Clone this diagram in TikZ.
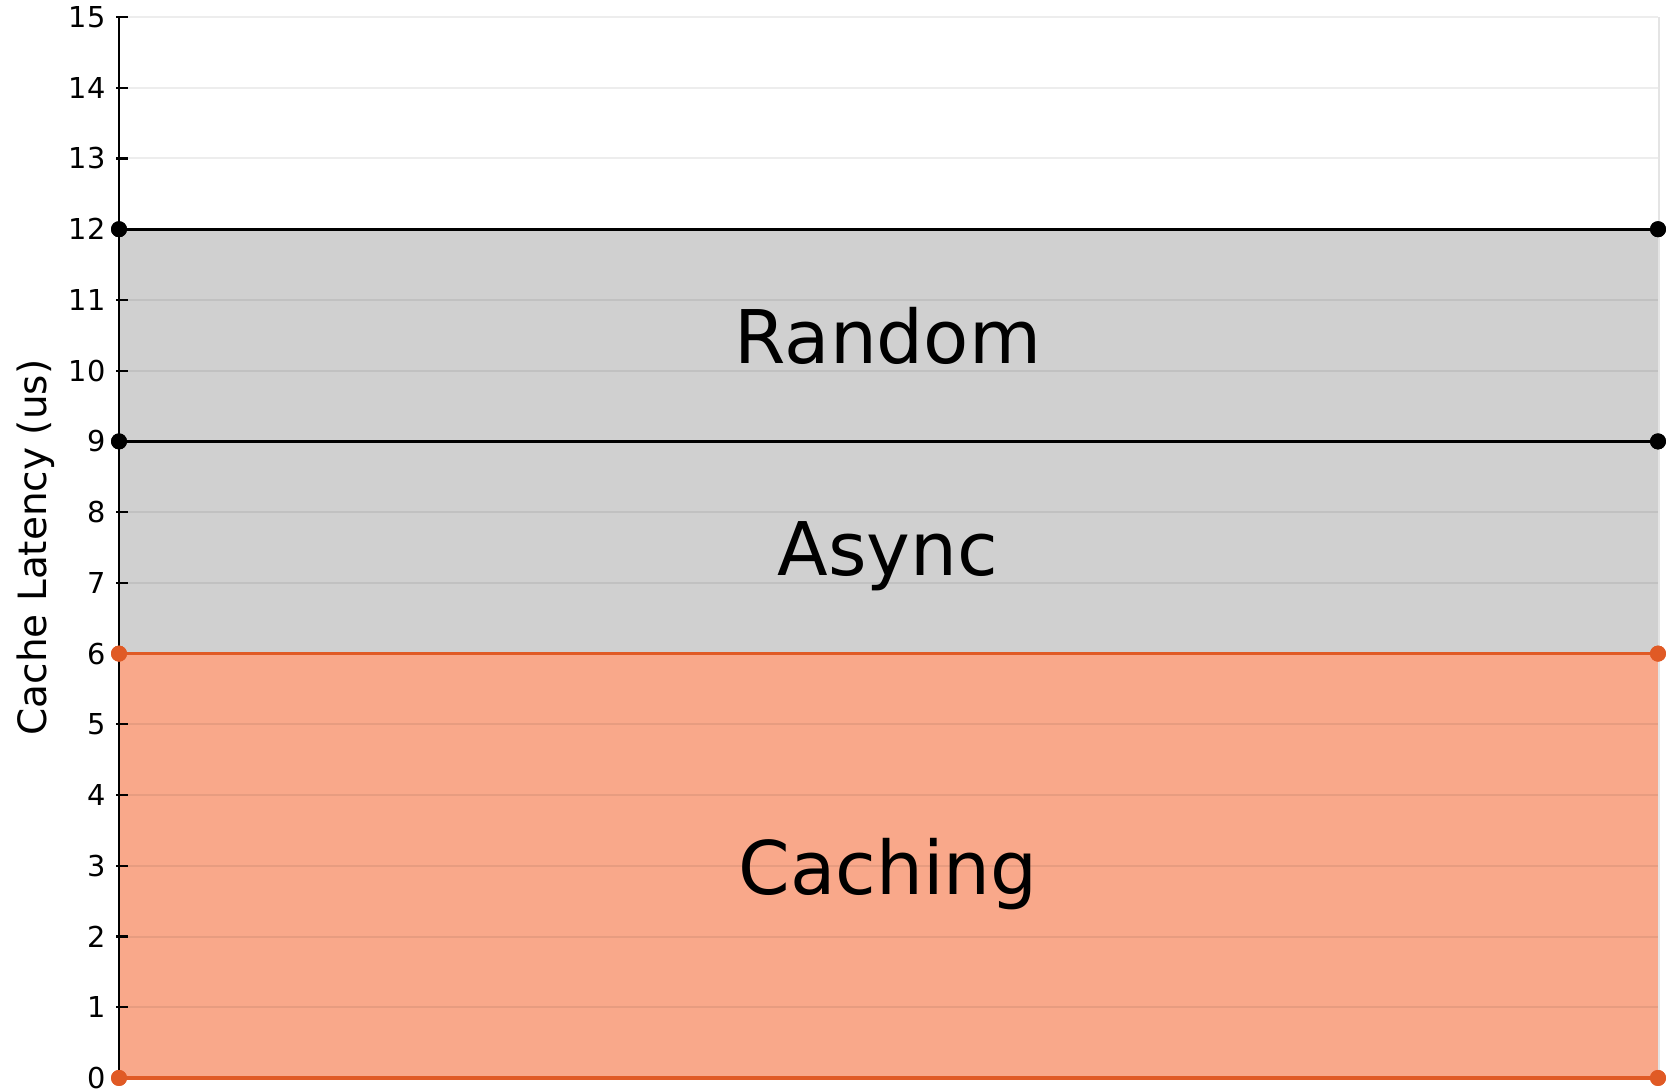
\documentclass[tikz,border=0pt]{standalone}
\usepackage{fontspec}
\setmainfont{DejaVu Sans}
\definecolor{orfill}{HTML}{F9A88A}
\definecolor{orline}{HTML}{E05A25}
\definecolor{gyfill}{HTML}{D0D0D0}
\definecolor{edgegray}{HTML}{E4E4E4}
\tikzset{
  gridln/.style={line width=1pt, black, opacity=0.07},
  serblack/.style={line width=1.7pt, black},
  serorange/.style={line width=1.7pt, orline},
  dotblack/.style={circle, fill=black, inner sep=0pt, minimum size=8pt},
  dotorange/.style={circle, fill=orline, inner sep=0pt, minimum size=8pt},
  ticklbl/.style={anchor=east, inner sep=0pt, font=\fontsize{14.4}{17}\selectfont},
  biglbl/.style={anchor=base, inner sep=0pt, font=\fontsize{37}{44}\selectfont},
}
\begin{document}
\begin{tikzpicture}[x=0.5pt, y=35.365pt]
\useasboundingbox (0,-0.198) rectangle (1666,15.241);
% fills
\fill[orfill] (119,0) rectangle (1658,6);
\fill[gyfill] (119,6) rectangle (1658,12);
% grid
\foreach \v in {1,...,15} {
  \draw[gridln] (119,\v) -- (1658,\v);
}
\draw[edgegray, line width=1pt] (1659,0) -- (1659,15);
% axis and ticks
\draw[black, line width=1.1pt] (119,0) -- (119,15);
\foreach \v in {0,...,15} {
  \draw[black, line width=1.1pt] (116,\v) -- (128,\v);
  \node[ticklbl] (t\v) at (106,\v) {\v};
}
% axis title
\node[rotate=90, anchor=base, inner sep=0pt, font=\fontsize{19.5}{23}\selectfont] (ytitle) at (47,7.5) {Cache Latency (us)};
% series
\node[dotorange] (c0l) at (119,0) {};
\node[dotorange] (c0r) at (1658,0) {};
\node[dotorange] (c6l) at (119,6) {};
\node[dotorange] (c6r) at (1658,6) {};
\node[dotblack] (a9l) at (119,9) {};
\node[dotblack] (a9r) at (1658,9) {};
\node[dotblack] (r12l) at (119,12) {};
\node[dotblack] (r12r) at (1658,12) {};
\draw[serorange] (c0l.center) -- (c0r.center);
\draw[serorange] (c6l.center) -- (c6r.center);
\draw[serblack] (a9l.center) -- (a9r.center);
\draw[serblack] (r12l.center) -- (r12r.center);
\node[dotorange] at (c0l) {};
\node[dotorange] at (c0r) {};
\node[dotorange] at (c6l) {};
\node[dotorange] at (c6r) {};
\node[dotblack] at (a9l) {};
\node[dotblack] at (a9r) {};
\node[dotblack] at (r12l) {};
\node[dotblack] at (r12r) {};
% labels
\node[biglbl] (lrandom) at (888,10.1) {Random};
\node[biglbl] (lasync) at (888,7.1) {Async};
\node[biglbl] (lcaching) at (888,2.6) {Caching};
\end{tikzpicture}
\end{document}
